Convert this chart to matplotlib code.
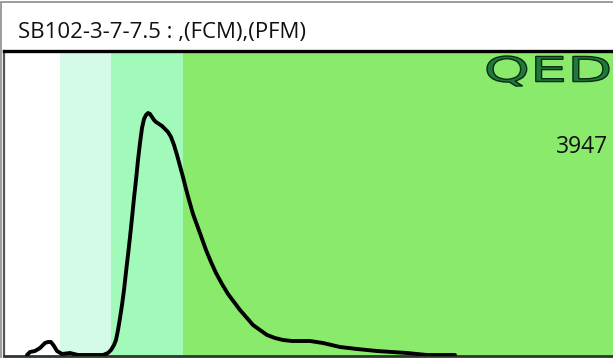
import matplotlib
matplotlib.use("Agg")
import matplotlib.pyplot as plt
from matplotlib.textpath import TextPath
from matplotlib.patches import PathPatch, Rectangle
from matplotlib.font_manager import FontProperties
from matplotlib.transforms import Affine2D

# ---- data ----
title_text = "SB102-3-7-7.5 : ,(FCM),(PFM)"
count_label = "3947"
logo_text = "QED"

band_edges = [4, 60, 111, 183, 613]
band_colors = ["#ffffff", "#d4fbe8", "#a1f9ba", "#8aea6c"]

curve_x = [27, 30, 35, 40, 45, 48, 51, 54, 57, 62, 70, 78, 90, 103, 108, 111, 114, 116,
           118, 120, 122, 124, 126, 128, 130, 132, 134, 136, 138, 140, 142, 144, 146,
           148, 150, 152, 154, 156, 159, 162, 165, 168, 171, 174, 177, 180, 183, 186,
           189, 193, 197, 201, 206, 211, 216, 222, 228, 234, 240, 247, 253, 260, 267,
           275, 283, 292, 300, 310, 323, 340, 357, 377, 407, 427, 455]
curve_y = [1, 4, 5, 8, 13, 14, 14, 10, 5, 2, 3, 1, 1, 1, 3, 6, 11, 16,
           26, 38, 51, 66, 84, 101, 119, 138, 158, 176, 196, 213, 228, 237, 241,
           243, 242, 239, 236, 234, 232, 230, 227, 224, 219, 211, 201, 190, 179, 167,
           156, 142, 131, 120, 106, 94, 83, 72, 62, 54, 46, 38, 31, 26, 21,
           18, 16, 15, 15, 15, 13, 9, 7, 5, 3, 1, 1]

# ---- figure ----
W, H = 613, 358
fig = plt.figure(figsize=(W / 100, H / 100), dpi=100)
fig.patch.set_facecolor("white")

# outer grey frame
fig.add_artist(Rectangle((1.5 / W, -1), 2, 1 + 1 - 1.5 / H, transform=fig.transFigure,
                         fill=False, edgecolor="#8c8c8c", linewidth=1.2))

ax_left, ax_right = 4, 613
ax_top, ax_bottom = 51, 356
ax = fig.add_axes([ax_left / W, (H - ax_bottom) / H,
                   (ax_right - ax_left) / W, (ax_bottom - ax_top) / H])

for i, c in enumerate(band_colors):
    ax.axvspan(band_edges[i], band_edges[i + 1], color=c, lw=0, zorder=0)

ax.plot(curve_x, curve_y, color="black", lw=2.8, solid_capstyle="round",
        solid_joinstyle="round", zorder=3)

ax.set_xlim(ax_left, ax_right)
ax.set_ylim(0, ax_bottom - ax_top)
ax.set_xticks([])
ax.set_yticks([])
ax.spines["right"].set_visible(False)
ax.spines["top"].set_color("black")
ax.spines["top"].set_linewidth(2.4)
ax.spines["left"].set_color("#555555")
ax.spines["left"].set_linewidth(1.6)
ax.spines["bottom"].set_color("#2a3a2a")
ax.spines["bottom"].set_linewidth(2.0)

# title
fig.text(18 / W, 1 - 38 / H, title_text, fontsize=16, family="Open Sans",
         color="#111111", va="baseline", ha="left")

# count label
fig.text(608 / W, 1 - 153 / H, count_label, fontsize=16.5, family="Open Sans",
         color="#111111", va="baseline", ha="right")

# logo
fp = FontProperties(family="DejaVu Sans", weight="normal")
tp = TextPath((0, 0), logo_text, prop=fp, size=10)
ext = tp.get_extents()
bx0, bx1 = 487, 609
by0, by1 = H - 86, H - 56
sx = (bx1 - bx0) / ext.width
sy = (by1 - by0) / ext.height
tr = Affine2D().translate(-ext.x0, -ext.y0).scale(sx, sy).translate(bx0, by0)
path = tr.transform_path(tp)
patch = PathPatch(path, transform=None, facecolor="#1e7a3a", edgecolor="#0a2a12",
                  linewidth=1.0, zorder=5)
fig.add_artist(patch)

fig.savefig("out.png", dpi=100)
